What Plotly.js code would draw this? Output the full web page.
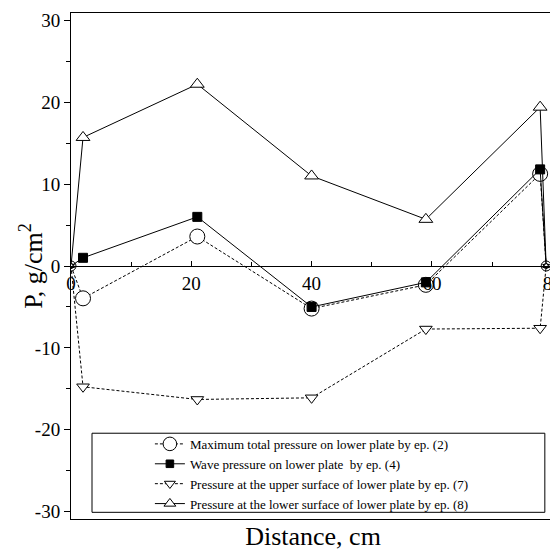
<!DOCTYPE html>
<html><head><meta charset="utf-8">
<script src="https://cdn.plot.ly/plotly-3.0.1.min.js"></script>
<style>html,body{margin:0;padding:0;overflow:hidden;background:#fff}</style>
</head><body><div id="chart"></div>
<script>
const distance = [0, 2, 21, 40, 59, 78, 79];
const maxTotalPressure = [0, -3.95, 3.6, -5.2, -2.3, 11.25, 0];
const wavePressure = [0, 1.0, 6.0, -5.0, -2.0, 11.8, 0];
const upperSurfacePressure = [0, -14.75, -16.3, -16.1, -7.7, -7.6, 0];
const lowerSurfacePressure = [0, 15.7, 22.2, 11.0, 5.7, 19.4, 0];
const seriesNames = [
  'Maximum total pressure on lower plate by ep. (2)',
  'Wave pressure on lower plate&nbsp; by ep. (4)',
  'Pressure at the upper surface of lower plate by ep. (7)',
  'Pressure at the lower surface of lower plate by ep. (8)'
];
const yTickValues = [-30, -20, -10, 0, 10, 20, 30];
const yTickLabels = ['-30', '-20', '-10', '0', '10', '20', '30'];
const xTickValues = [0, 20, 40, 60, 80];
const xTickLabels = ['0', '20', '40', '60', '80'];
const xTitle = 'Distance, cm';
const yTitle = 'P, g/cm<sup>2</sup>';

const FONT = 'Liberation Serif';
const dotted = '3px,2px';

const traces = [
  {x: distance, y: maxTotalPressure, name: seriesNames[0], mode: 'lines+markers',
   line: {color: '#000', width: 1, dash: dotted},
   marker: {symbol: 'circle', size: [10, 15, 15, 15, 15, 15, 10], color: '#fff', opacity: 1, line: {color: '#000', width: 1}}},
  {x: distance, y: wavePressure, name: seriesNames[1], mode: 'lines+markers',
   line: {color: '#000', width: 1},
   marker: {symbol: 'square', size: [4, 9, 9, 9, 9, 9, 4], color: '#000', opacity: 1, line: {color: '#000', width: 1}}},
  {x: distance, y: upperSurfacePressure, name: seriesNames[2], mode: 'lines+markers',
   line: {color: '#000', width: 1, dash: dotted},
   marker: {symbol: 'triangle-down', size: [6, 11, 11, 11, 11, 11, 6], color: '#fff', opacity: 1, line: {color: '#000', width: 1}}},
  {x: distance, y: lowerSurfacePressure, name: seriesNames[3], mode: 'lines+markers',
   line: {color: '#000', width: 1},
   marker: {symbol: 'triangle-up', size: [6, 12, 12, 12, 12, 12, 6], color: '#fff', opacity: 1, line: {color: '#000', width: 1}}},
  {x: [], y: [], xaxis: 'x2', yaxis: 'y', showlegend: false, hoverinfo: 'skip'}
];

const xRange = [0, 80.47];
const layout = {
  width: 570, height: 551,
  margin: {l: 71, r: 15, t: 13, b: 32, pad: 0},
  paper_bgcolor: '#fff', plot_bgcolor: '#fff',
  font: {family: FONT, color: '#000', size: 19},
  showlegend: true,
  xaxis: {
    range: xRange, showline: true, mirror: true, linecolor: '#000', linewidth: 1,
    ticks: '', showticklabels: false, showgrid: false, zeroline: false,
    title: {text: xTitle, font: {family: FONT, size: 26, color: '#000'}, standoff: 8}
  },
  xaxis2: {
    overlaying: 'x', anchor: 'free', position: 0.5, side: 'bottom',
    range: xRange, showline: true, linecolor: '#000', linewidth: 1,
    tickmode: 'array', tickvals: xTickValues, ticktext: xTickLabels,
    ticks: 'inside', ticklen: 5, tickcolor: '#000', tickwidth: 1,
    minor: {tickmode: 'linear', tick0: 0, dtick: 10, ticks: 'inside', ticklen: 4, tickcolor: '#000'},
    tickfont: {family: FONT, size: 19, color: '#000'},
    showgrid: false, zeroline: false
  },
  yaxis: {
    range: [-30.9, 30.9], showline: true, mirror: false, linecolor: '#000', linewidth: 1,
    tickmode: 'array', tickvals: yTickValues, ticktext: yTickLabels,
    ticks: 'outside', ticklen: 6, tickcolor: '#000', tickwidth: 1,
    minor: {tickmode: 'linear', tick0: 0, dtick: 5, ticks: 'outside', ticklen: 4, tickcolor: '#000'},
    tickfont: {family: FONT, size: 19, color: '#000'},
    showgrid: false, zeroline: false
  },
  annotations: [
    {text: yTitle, xref: 'paper', yref: 'paper', x: -0.083, y: 0.5,
     xanchor: 'center', yanchor: 'middle', textangle: -90, showarrow: false,
     font: {family: FONT, size: 26, color: '#000'}}
  ],
  legend: {
    x: 0.163, y: 0.178, xanchor: 'left', yanchor: 'top',
    bgcolor: 'rgba(0,0,0,0)', borderwidth: 0,
    font: {family: FONT, size: 13, color: '#000'},
    tracegroupgap: 0
  },
  shapes: [
    {type: 'rect', xref: 'paper', yref: 'paper', x0: 0.0434, x1: 0.979, y0: 0.0132, y1: 0.1695,
     line: {color: '#000', width: 1}, fillcolor: '#fff', layer: 'above'}
  ]
};

Plotly.newPlot('chart', traces, layout, {displayModeBar: false, staticPlot: true});
</script>
</body></html>
